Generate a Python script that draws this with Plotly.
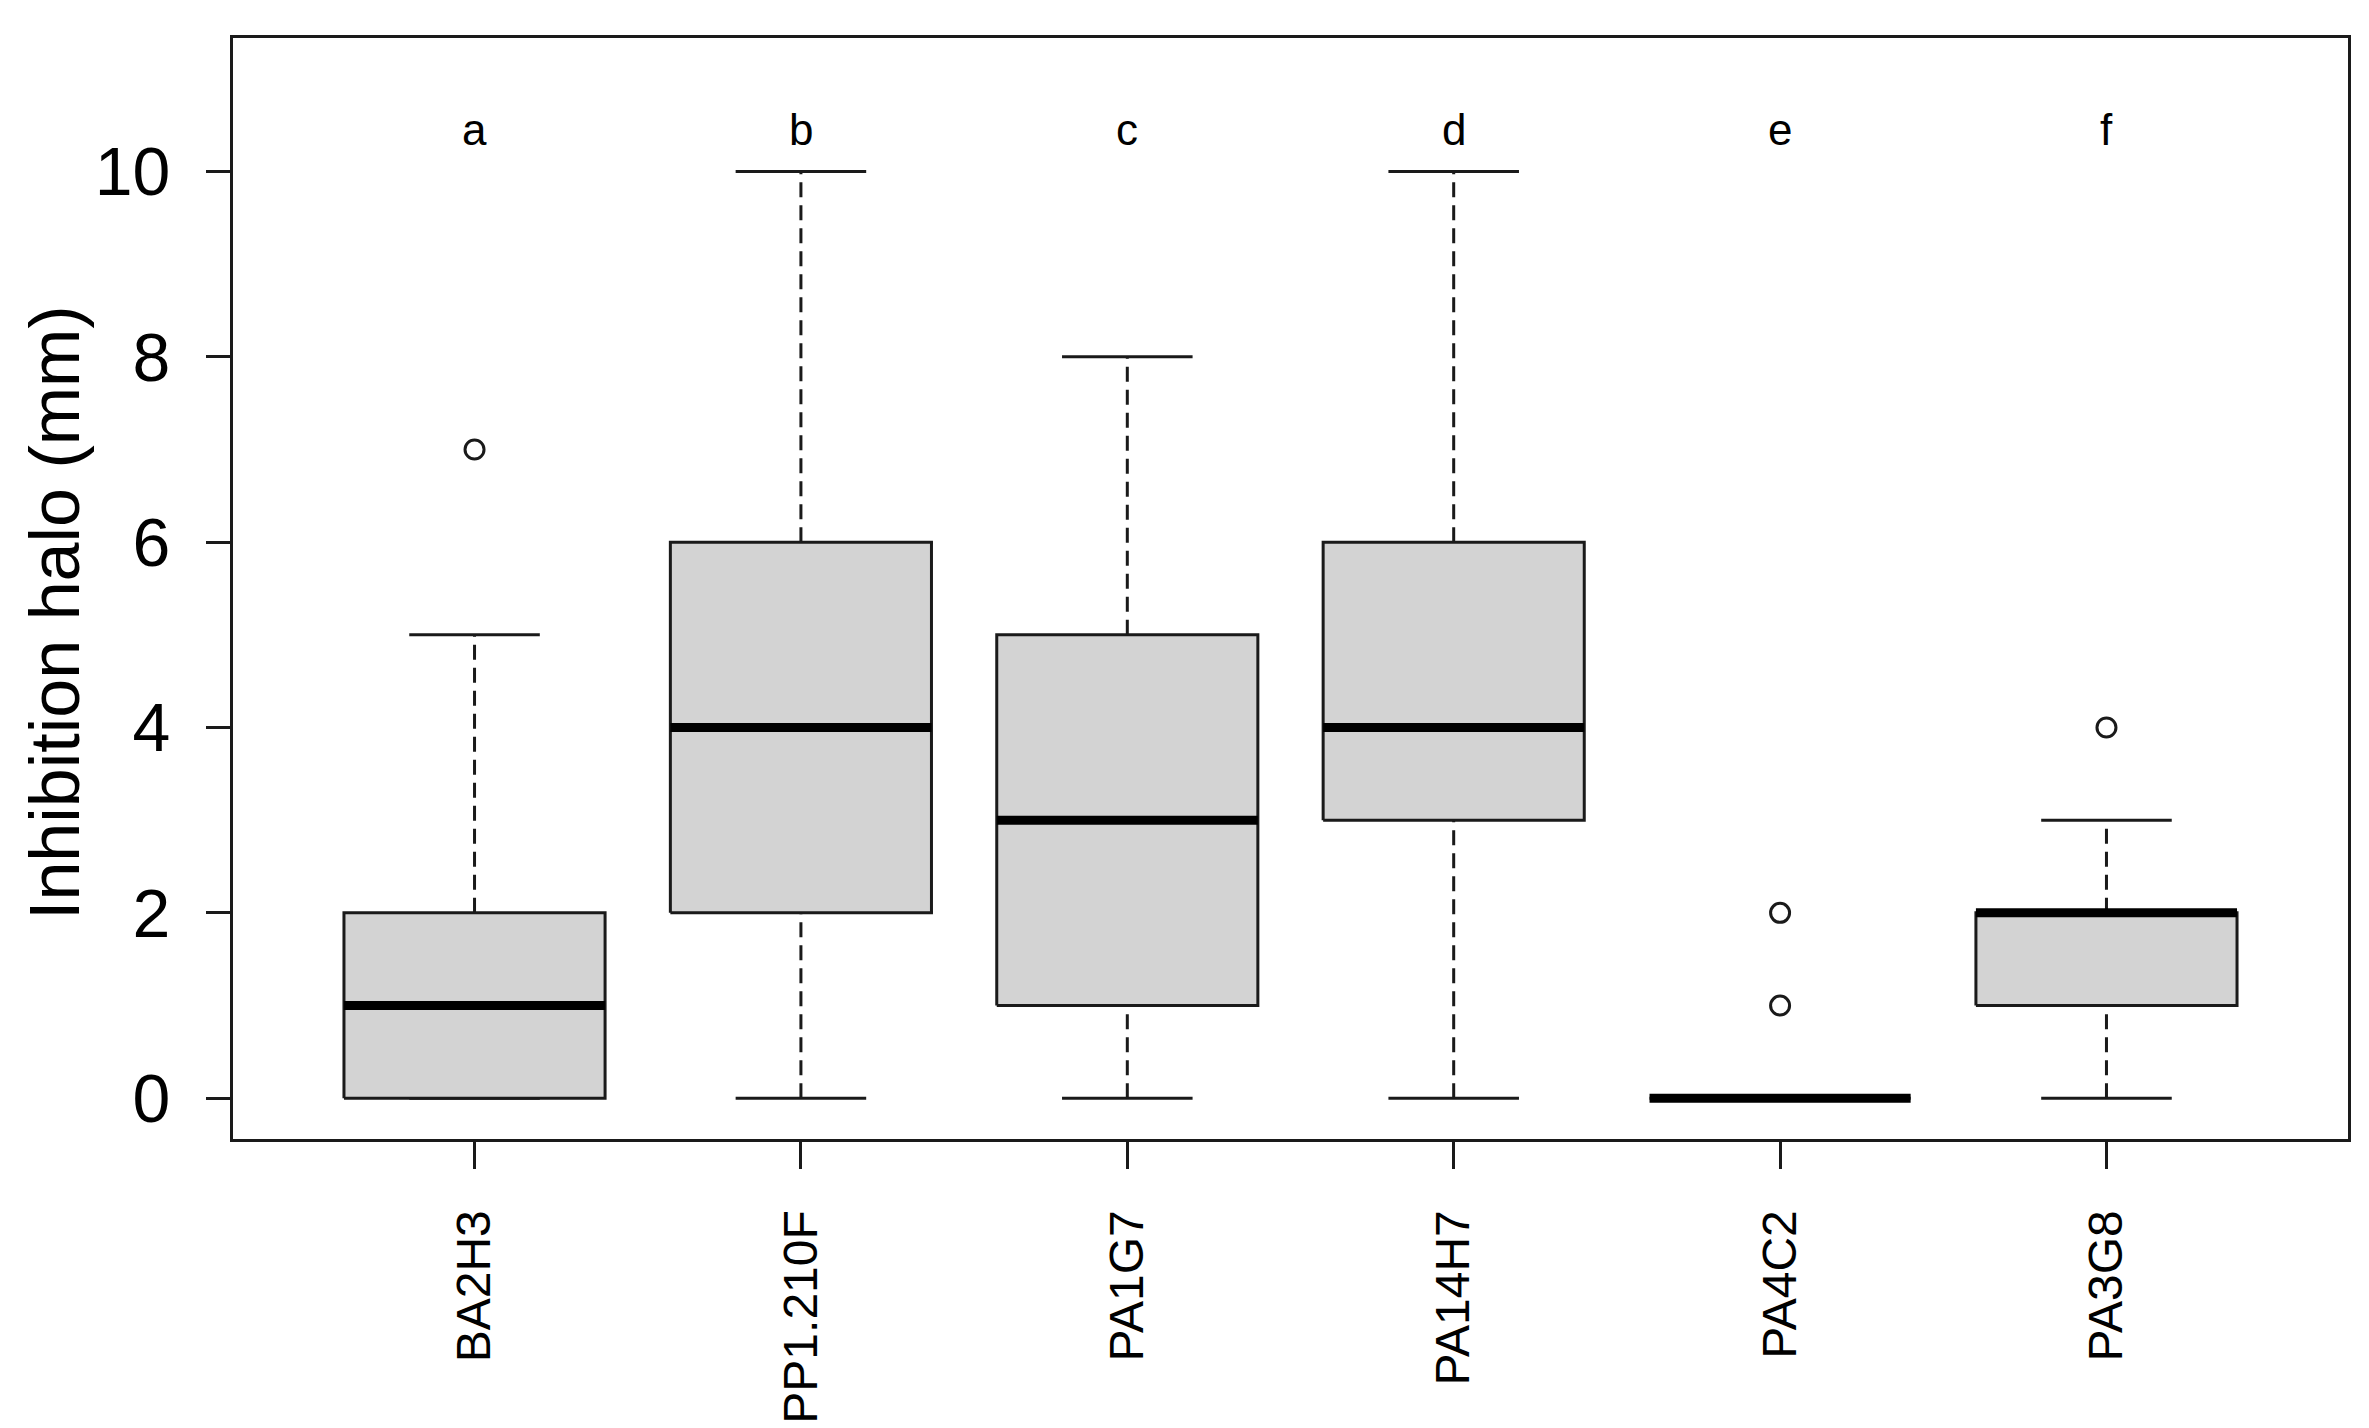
import plotly.graph_objects as go

# ---- data ----
categories = ["BA2H3", "PP1.210F", "PA1G7", "PA14H7", "PA4C2", "PA3G8"]
q1 = [0, 2, 1, 3, 0, 1]
median = [1, 4, 3, 4, 0, 2]
q3 = [2, 6, 5, 6, 0, 2]
whisker_low = [0, 0, 0, 0, 0, 0]
whisker_high = [5, 10, 8, 10, 0, 3]
outliers = [[7], [], [], [], [1, 2], [4]]
group_letters = ["a", "b", "c", "d", "e", "f"]
letter_y = 10.45
y_ticks = [0, 2, 4, 6, 8, 10]

# ---- style ----
FONT = "Liberation Sans, Arial, sans-serif"
LINE = "#1a1a1a"
FILL = "#D3D3D3"
HALF_BOX = 0.4
HALF_CAP = 0.2

fig = go.Figure()
positions = list(range(1, len(categories) + 1))

for i, x in enumerate(positions):
    # dashed whiskers
    fig.add_trace(go.Scatter(
        x=[x, x, None, x, x],
        y=[whisker_low[i], q1[i], None, q3[i], whisker_high[i]],
        mode="lines", line=dict(color=LINE, width=3, dash="15px,8px"),
        hoverinfo="skip", showlegend=False))
    # caps
    fig.add_trace(go.Scatter(
        x=[x - HALF_CAP, x + HALF_CAP, None, x - HALF_CAP, x + HALF_CAP],
        y=[whisker_low[i], whisker_low[i], None, whisker_high[i], whisker_high[i]],
        mode="lines", line=dict(color=LINE, width=3),
        hoverinfo="skip", showlegend=False))
    # box
    fig.add_trace(go.Scatter(
        x=[x - HALF_BOX, x + HALF_BOX, x + HALF_BOX, x - HALF_BOX, x - HALF_BOX],
        y=[q1[i], q1[i], q3[i], q3[i], q1[i]],
        mode="lines", fill="toself", fillcolor=FILL,
        line=dict(color=LINE, width=3),
        hoverinfo="skip", showlegend=False))
    # median
    fig.add_trace(go.Scatter(
        x=[x - HALF_BOX, x + HALF_BOX], y=[median[i], median[i]],
        mode="lines", line=dict(color="#000000", width=9),
        hoverinfo="skip", showlegend=False))
    # outliers
    if outliers[i]:
        fig.add_trace(go.Scatter(
            x=[x] * len(outliers[i]), y=outliers[i], mode="markers",
            marker=dict(symbol="circle-open", size=19, color=LINE,
                        line=dict(width=3, color=LINE)),
            hoverinfo="skip", showlegend=False))
    # group letters
    fig.add_annotation(x=x, y=letter_y, text=group_letters[i], showarrow=False,
                       font=dict(family=FONT, size=44, color="#000000"),
                       xanchor="center", yanchor="middle")

fig.add_annotation(xref="paper", yref="paper", x=-0.0845, y=0.478,
                   text="Inhibition halo (mm)", textangle=-90, showarrow=False,
                   font=dict(family=FONT, size=70, color="#000000"),
                   xanchor="center", yanchor="middle")

fig.update_xaxes(range=[0.26, 6.74], tickmode="array", tickvals=positions,
                 ticktext=categories, tickangle=-90,
                 ticks="outside", ticklen=27, tickwidth=3, tickcolor=LINE,
                 showline=True, linewidth=3, linecolor=LINE, mirror=True,
                 showgrid=False, zeroline=False, ticklabelstandoff=22,
                 tickfont=dict(family=FONT, size=48, color="#000000"))
fig.update_yaxes(range=[-0.44, 11.44], tickmode="array", tickvals=y_ticks,
                 ticks="outside", ticklen=24, tickwidth=3, tickcolor=LINE,
                 showline=True, linewidth=3, linecolor=LINE, mirror=True,
                 showgrid=False, zeroline=False, ticklabelstandoff=22,
                 tickfont=dict(family=FONT, size=68, color="#000000"))

fig.update_layout(width=2369, height=1428,
                  margin=dict(l=225, r=29, t=30, b=281),
                  plot_bgcolor="white", paper_bgcolor="white",
                  showlegend=False)

fig.write_html("out.html")
